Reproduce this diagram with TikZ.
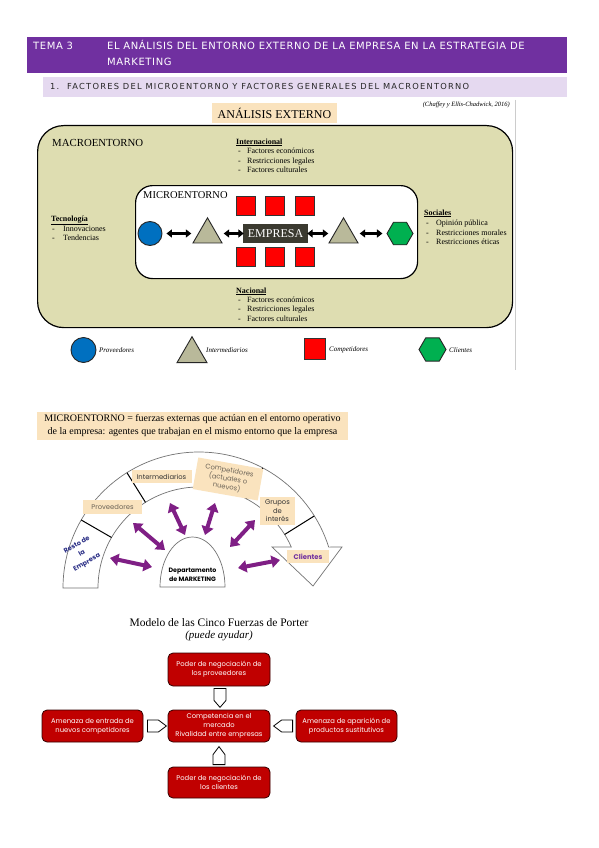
\documentclass[tikz,border=0pt]{standalone}
\usepackage{fontspec}
\setmainfont{Liberation Serif}
\newfontfamily\hdrfont[LetterSpace=6]{DejaVu Sans}
\newfontfamily\subfont[LetterSpace=15]{DejaVu Sans}
\newfontfamily\popfont{Poppins}
\usetikzlibrary{shapes.geometric,arrows.meta,calc}
\definecolor{hdrpurple}{HTML}{7030A0}
\definecolor{sublav}{HTML}{E5D9F0}
\definecolor{macrofill}{HTML}{DEDDB1}
\definecolor{peach}{HTML}{FAE3BE}
\definecolor{bluec}{HTML}{0070C0}
\definecolor{greenc}{HTML}{00B050}
\definecolor{olivetri}{HTML}{B9B99A}
\definecolor{redsq}{HTML}{FF0000}
\definecolor{empresac}{HTML}{3B3A30}
\definecolor{porterred}{HTML}{C00000}
\definecolor{arrowpurple}{HTML}{7F1F85}
\definecolor{navyc}{HTML}{2B2F86}
\definecolor{labelgray}{HTML}{6B6357}
\definecolor{cliepurple}{HTML}{7030A0}
\newcommand{\fsz}[2]{\fontsize{#1}{#2}\selectfont}
\begin{document}
\begin{tikzpicture}[x=1pt,y=-1pt,
  txt/.style={inner sep=0pt, anchor=base west},
  itemtxt/.style={txt, font=\fsz{8}{9}},
  headtxt/.style={txt, font=\bfseries\fsz{8}{9}},
  dbl/.style={line width=2.6pt, {Triangle[width=8pt,length=5.5pt]}-{Triangle[width=8pt,length=5.5pt]}},
  redbox/.style={draw=black!80, line width=0.6pt, fill=redsq, minimum size=19pt, inner sep=0pt},
  tri/.style={draw=black!85, line width=0.9pt, fill=olivetri, regular polygon, regular polygon sides=3, minimum size=33.5pt, inner sep=0pt},
  hexa/.style={draw=black!85, line width=0.9pt, fill=greenc, regular polygon, regular polygon sides=6, minimum size=26pt, inner sep=0pt},
  circ/.style={draw=black!85, line width=0.9pt, fill=bluec, circle, minimum size=24pt, inner sep=0pt},
  legtxt/.style={txt, anchor=west, font=\itshape\fsz{7}{8}},
  arcline/.style={draw=black!55, line width=0.7pt, fill=white},
  divider/.style={draw=black, line width=1pt},
  parrow/.style={arrowpurple, line width=4pt, {Triangle[width=12pt,length=8.5pt]}-{Triangle[width=12pt,length=8.5pt]}},
  lbl/.style={fill=peach, font=\popfont\fsz{6.8}{8}, inner sep=0pt, align=center},
  pbox/.style={draw=black!80!red, line width=0.8pt, fill=porterred, rounded corners=5pt, minimum width=102pt, minimum height=32pt, text=white, font=\popfont\fsz{6.8}{9}, align=center, inner sep=0pt},
  barrow/.style={draw=black, line width=0.8pt, fill=white}
]
\useasboundingbox (0,0) rectangle (599,848);
\fill[white] (0,0) rectangle (599,848);

% ---------- header ----------
\node[fill=hdrpurple, minimum width=540pt, minimum height=36pt, anchor=north west, inner sep=0pt] (hdr) at (27,37) {};
\node[txt, text=white, font=\hdrfont\fsz{10}{11}] (tema) at (33,50) {TEMA 3};
\node[txt, text=white, font=\hdrfont\fsz{10}{11}] (tit1) at (107,50) {EL ANÁLISIS DEL ENTORNO EXTERNO DE LA EMPRESA EN LA ESTRATEGIA DE};
\node[txt, text=white, font=\hdrfont\fsz{10}{11}] (tit2) at (107,66) {MARKETING};
\node[fill=sublav, minimum width=524pt, minimum height=20pt, anchor=north west, inner sep=0pt] (sub) at (43,77) {};
\node[txt, text=black!85, font=\subfont\fsz{8.3}{10}] (subt) at (50,90) {1.\ \ FACTORES DEL MICROENTORNO Y FACTORES GENERALES DEL MACROENTORNO};

% ---------- analisis externo ----------
\draw[black!20, line width=0.6pt] (515,100) -- (515,370);
\node[fill=peach, minimum width=125pt, minimum height=20pt, inner sep=0pt, font=\fsz{12}{14}] (ae) at (274.5,113) {ANÁLISIS EXTERNO};
\node[inner sep=0pt, anchor=east, font=\itshape\fsz{6.5}{8}] (cit) at (510,105) {(Chaffey y Ellis-Chadwick, 2016)};

\node[draw=black, line width=1.2pt, fill=macrofill, rounded corners=26pt, minimum width=475pt, minimum height=202pt, anchor=north west, inner sep=0pt] (macro) at (37,125) {};
\node[txt, font=\fsz{10.8}{12}] (macrot) at (52,146.5) {MACROENTORNO};

\node[headtxt] (inth) at (236,144) {\underline{Internacional}};
\node[itemtxt] at (238,153.5) {-}; \node[itemtxt] (int1) at (247,153.5) {Factores económicos};
\node[itemtxt] at (238,163) {-}; \node[itemtxt] (int2) at (247,163) {Restricciones legales};
\node[itemtxt] at (238,172.5) {-}; \node[itemtxt] (int3) at (247,172.5) {Factores culturales};

\node[headtxt] (tech) at (51,221) {\underline{Tecnología}};
\node[itemtxt] at (52,231.5) {-}; \node[itemtxt] (tec1) at (63,231.5) {Innovaciones};
\node[itemtxt] at (52,240.5) {-}; \node[itemtxt] (tec2) at (63,240.5) {Tendencias};

\node[headtxt] (soch) at (424,215) {\underline{Sociales}};
\node[itemtxt] at (426,225.5) {-}; \node[itemtxt] (soc1) at (436,225.5) {Opinión pública};
\node[itemtxt] at (426,235) {-}; \node[itemtxt] (soc2) at (436,235) {Restricciones morales};
\node[itemtxt] at (426,244.5) {-}; \node[itemtxt] (soc3) at (436,244.5) {Restricciones éticas};

\node[headtxt] (nach) at (236,293) {\underline{Nacional}};
\node[itemtxt] at (238,302.5) {-}; \node[itemtxt] (nac1) at (247,302.5) {Factores económicos};
\node[itemtxt] at (238,311.5) {-}; \node[itemtxt] (nac2) at (247,311.5) {Restricciones legales};
\node[itemtxt] at (238,321.5) {-}; \node[itemtxt] (nac3) at (247,321.5) {Factores culturales};

\node[draw=black, line width=1.2pt, fill=white, rounded corners=17pt, minimum width=282pt, minimum height=93pt, anchor=north west, inner sep=0pt] (micro) at (135,185) {};
\node[txt, font=\fsz{10.5}{12}] (microt) at (143,198.5) {MICROENTORNO};

\foreach \i/\xx in {1/245.5,2/275,3/305}{
  \node[redbox] (rt\i) at (\xx,206) {};
  \node[redbox] (rb\i) at (\xx,257) {};
}
\node[fill=empresac, minimum width=65pt, minimum height=19pt, inner sep=0pt, text=white, font=\fsz{12}{14}] (emp) at (275.5,233.5) {EMPRESA};
\node[circ] (prov) at (150,233.5) {};
\node[tri] (triL) at (207.5,234.6) {};
\node[tri] (triR) at (343.5,234.6) {};
\node[hexa] (cli) at (400,233.5) {};
\draw[dbl, shorten <=4pt, shorten >=6pt] (prov.east) -- (prov.east -| triL.west);
\draw[dbl, shorten <=6pt, shorten >=-1pt] (triL.east |- emp.west) -- (emp.west);
\draw[dbl, shorten <=-1pt, shorten >=5pt] (emp.east) -- (emp.east -| triR.west);
\draw[dbl, shorten <=6pt, shorten >=4pt] (triR.east |- cli.west) -- (cli.west);

% legend
\node[circ, minimum size=25pt] (lg1) at (83.5,350) {};
\node[legtxt] (lg1t) at (99,350) {Proveedores};
\node[tri, minimum size=34.6pt] (lg2) at (192,354) {};
\node[legtxt] (lg2t) at (206,350) {Intermediarios};
\node[redbox, minimum size=21pt] (lg3) at (314.5,348.5) {};
\node[legtxt] (lg3t) at (329,350) {Competidores};
\node[hexa, minimum size=27pt] (lg4) at (432.5,349.5) {};
\node[legtxt] (lg4t) at (449,350) {Clientes};

% ---------- microentorno definition ----------
\node[fill=peach, minimum width=311pt, minimum height=28pt, inner sep=0pt, align=center, font=\fsz{10}{13}] (mdef) at (192.5,426) {MICROENTORNO = fuerzas externas que actúan en el entorno operativo\\de la empresa: agentes que trabajan en el mismo entorno que la empresa};

% ---------- arc diagram ----------
\coordinate (C) at (199,588);
\draw[arcline] ($(C)+(-180:136)$) arc[start angle=-180, end angle=-17.5, radius=136] -- (342,547) -- (313,586) -- (272,547) -- ($(C)+(-24:101)$) arc[start angle=-24, end angle=-180, radius=101] -- cycle;
\foreach \a in {150,122,62,32}{
  \draw[divider] ($(C)+(-\a:101)$) -- ($(C)+(-\a:136)$);
}
\draw[arcline] (160,587) arc[start angle=-180, end angle=0, x radius=32.5, y radius=50] -- cycle;
\node[font=\popfont\bfseries\fsz{6.3}{9}, align=center, inner sep=0pt] (mkt) at (192.5,574.5) {Departamento\\de MARKETING};

\node[lbl, minimum width=59pt, minimum height=14pt, text=labelgray] (lprov) at (112.5,507) {Proveedores};
\node[lbl, minimum width=60pt, minimum height=13pt, text=black!80] (linter) at (161.5,476.5) {Intermediarios};
\node[lbl, minimum width=66pt, minimum height=32pt, text=labelgray, rotate=-10, font=\popfont\fsz{6.8}{8.5}] (lcomp) at (228,479) {Competidores\\(actuales o\\nuevos)};
\node[lbl, minimum width=35pt, minimum height=28pt, text=black!80, font=\popfont\fsz{6.8}{8.5}] (lgrup) at (277.5,511) {Grupos\\de\\interés};
\node[lbl, minimum width=42pt, minimum height=13pt, text=cliepurple, font=\popfont\bfseries\fsz{6.8}{8}] (lcli) at (308,556.5) {Clientes};
\node[font=\popfont\bfseries\fsz{6.5}{10}, text=navyc, align=center, rotate=30, inner sep=0pt] (lresto) at (82,554) {Resto de\\la\\Empresa};

\coordinate (p1a) at (110,558); \coordinate (p1b) at (152,567);
\coordinate (p2a) at (133,523); \coordinate (p2b) at (165,550);
\coordinate (p3a) at (170,503); \coordinate (p3b) at (185,535);
\coordinate (p4a) at (215,503); \coordinate (p4b) at (205,535);
\coordinate (p5a) at (255,520); \coordinate (p5b) at (230,547);
\coordinate (p6a) at (280,560); \coordinate (p6b) at (238,568);
\foreach \k in {1,...,6}{ \draw[parrow] (p\k a) -- (p\k b); }

% ---------- Porter ----------
\node[font=\fsz{11.5}{13}, inner sep=0pt] (ptitle) at (219,623) {Modelo de las Cinco Fuerzas de Porter};
\node[font=\itshape\fsz{11}{13}, inner sep=0pt] (psub) at (219,636) {(puede ayudar)};

\node[pbox, minimum height=33pt] (ptop) at (219,669.5) {Poder de negociación de\\los proveedores};
\node[pbox] (pcen) at (219,726) {Competencia en el\\mercado\\Rivalidad entre empresas};
\node[pbox, minimum width=101pt] (pleft) at (92.5,726) {Amenaza de entrada de\\nuevos competidores};
\node[pbox, minimum width=101pt] (pright) at (346.5,726) {Amenaza de aparición de\\productos sustitutivos};
\node[pbox, minimum height=31pt] (pbot) at (219,782.5) {Poder de negociación de\\los clientes};

\draw[barrow] ($(ptop.south)+(-5,2)$) -- ++(12,0) -- ++(0,12) -- ++(-6,7) -- ++(-6,-7) -- cycle;
\draw[barrow] ($(pleft.east)+(4,-6)$) -- ++(11,0) -- ++(8,6) -- ++(-8,6) -- ++(-11,0) -- cycle;
\draw[barrow] ($(pright.west)+(-3,-6)$) -- ++(-11,0) -- ++(-8,6) -- ++(8,6) -- ++(11,0) -- cycle;
\draw[barrow] ($(pbot.north)+(-6,-2)$) -- ++(0,-10) -- ++(6,-8) -- ++(6,8) -- ++(0,10) -- cycle;
\end{tikzpicture}
\end{document}
